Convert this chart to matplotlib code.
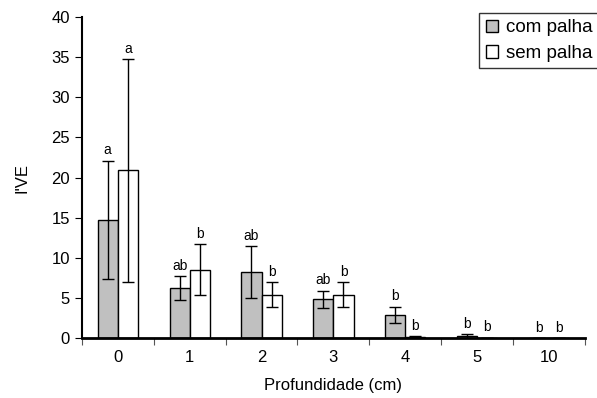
import numpy as np
import matplotlib.pyplot as plt

plt.rcParams['font.family'] = ['Liberation Sans', 'DejaVu Sans']

profundidade = ['0', '1', '2', '3', '4', '5', '10']
com_palha = [14.7, 6.2, 8.2, 4.8, 2.9, 0.2, 0.0]
com_err = [7.4, 1.5, 3.2, 1.1, 1.0, 0.3, 0.0]
sem_palha = [20.9, 8.5, 5.4, 5.4, 0.15, 0.03, 0.0]
sem_err = [13.9, 3.2, 1.6, 1.6, 0.05, 0.0, 0.0]
letras_com = ['a', 'ab', 'ab', 'ab', 'b', 'b', 'b']
letras_sem = ['a', 'b', 'b', 'b', 'b', 'b', 'b']

x = np.arange(len(profundidade))
w = 0.28

fig = plt.figure(figsize=(5.97, 3.98), dpi=100)
ax = fig.add_axes([0.137, 0.151, 0.843, 0.806])

ax.bar(x - w / 2, com_palha, w, color='#c0c0c0', edgecolor='black', linewidth=1,
       label='com palha')
ax.bar(x + w / 2, sem_palha, w, color='white', edgecolor='black', linewidth=1,
       label='sem palha')
ax.errorbar(x - w / 2, com_palha, yerr=com_err, fmt='none', ecolor='black',
            elinewidth=1, capsize=4, capthick=1)
ax.errorbar(x + w / 2, sem_palha, yerr=sem_err, fmt='none', ecolor='black',
            elinewidth=1, capsize=4, capthick=1)

for i in range(len(x)):
    ax.text(x[i] - w / 2, com_palha[i] + com_err[i] + 0.4, letras_com[i],
            ha='center', va='bottom', fontsize=10)
    ax.text(x[i] + w / 2, sem_palha[i] + sem_err[i] + 0.4, letras_sem[i],
            ha='center', va='bottom', fontsize=10)

ax.set_xlim(-0.5, len(x) - 0.5)
ax.set_ylim(0, 40)
ax.set_yticks(range(0, 41, 5))
ax.set_xticks(x)
ax.set_xticklabels(profundidade, fontsize=12)
ax.tick_params(axis='x', length=0, pad=9)
ax.set_xticks(np.arange(-0.5, len(x), 1), minor=True)
ax.tick_params(axis='x', which='minor', length=5, width=0.8, color='#555555')
ax.tick_params(axis='y', labelsize=12, length=5)
for s in ['top', 'right']:
    ax.spines[s].set_visible(False)
ax.spines['left'].set_linewidth(1.5)
ax.spines['bottom'].set_linewidth(2)

ax.set_xlabel('Profundidade (cm)', fontsize=12, labelpad=9)
ax.set_ylabel("I'VE", fontsize=12, labelpad=16)

leg = ax.legend(loc='upper right', bbox_to_anchor=(1.035, 1.025), fontsize=13.5,
                frameon=True, fancybox=False, edgecolor='black',
                handlelength=0.65, handleheight=0.65, handletextpad=0.4,
                borderpad=0.35, labelspacing=0.45, borderaxespad=0.2)
leg.get_frame().set_linewidth(1)

plt.savefig('out.png', dpi=100)
